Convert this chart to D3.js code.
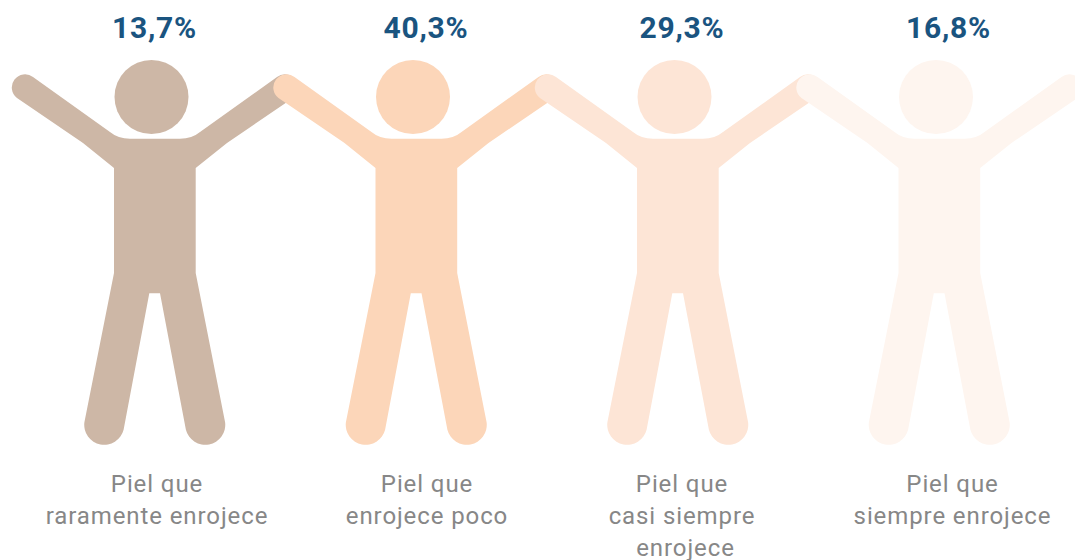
<!DOCTYPE html>
<html>
<head>
<meta charset="utf-8">
<script src="https://cdn.jsdelivr.net/npm/d3@7"></script>
<style>
    html, body { margin: 0; padding: 0; background: #fff; overflow: hidden; }
    text { font-family: Roboto, sans-serif; }
</style>
</head>
<body>
<div id="chart"></div>
<script>
// Share of people per skin type
const categories = ["rarely", "little", "almost", "always"];
const values = [13.7, 40.3, 29.3, 16.8];
const labels = [
    ["Piel que", "raramente enrojece"],
    ["Piel que", "enrojece poco"],
    ["Piel que", "casi siempre", "enrojece"],
    ["Piel que", "siempre enrojece"]
];
const colors = ["#cdb7a6", "#fcd6b9", "#fde5d6", "#fef5ef"];

const width = 1075;
const height = 560;

// text is not quite centred on the figures in the original
const valueShift = [-0.5, 9.5, 4, 9];
const labelShift = [2, 10.5, 4, 13];

const svg = d3.select("#chart")
    .append("svg")
    .attr("width", width)
    .attr("height", height)
    .style("display", "block");

const xScale = d3.scalePoint()
    .domain(categories)
    .range([155, 939.5]);

// Figure outline, relative to the middle of the torso
const body = [
    "M-25,138.7",
    "Q-37,138.7 -45,132",
    "L-122,77",
    "A13.2,13.2 0 0 0 -138,98",
    "L-72,143",
    "L-41,168",
    "L-41,273",
    "L-70.6,422.2",
    "A20,20 0 0 0 -31.4,429.8",
    "L-5.7,293.3",
    "L5,293.3",
    "L30.9,429.8",
    "A20,20 0 0 0 70.1,422.2",
    "L40.7,273",
    "L40.7,168",
    "L72,143",
    "L138,98",
    "A13.2,13.2 0 0 0 122,77",
    "L45,132",
    "Q37,138.7 25,138.7",
    "Z"
].join(" ");

const figures = svg.selectAll(".figure")
    .data(categories)
    .enter()
    .append("g")
    .attr("class", "figure")
    .attr("transform", d => `translate(${xScale(d)},0)`);

figures.append("path")
    .attr("d", body)
    .attr("fill", (d, i) => colors[i]);

figures.append("circle")
    .attr("cx", -3.5)
    .attr("cy", 97)
    .attr("r", 37)
    .attr("fill", (d, i) => colors[i]);

// Percentages on top
svg.selectAll(".value")
    .data(values)
    .enter()
    .append("text")
    .attr("class", "value")
    .attr("x", (d, i) => xScale(categories[i]) + valueShift[i])
    .attr("y", 37.5)
    .attr("text-anchor", "middle")
    .attr("fill", "#1a5480")
    .style("font-size", "30px")
    .style("font-weight", 700)
    .style("letter-spacing", "0.8px")
    .text(d => d.toFixed(1).replace(".", ",") + "%");

// Captions below
const captions = svg.selectAll(".caption")
    .data(labels)
    .enter()
    .append("text")
    .attr("class", "caption")
    .attr("text-anchor", "middle")
    .attr("fill", "#878787")
    .style("font-size", "24px")
    .style("letter-spacing", "0.9px");

captions.selectAll("tspan")
    .data((d, i) => d.map(line => ({ line, i })))
    .enter()
    .append("tspan")
    .attr("x", (d, j) => xScale(categories[d.i]) + labelShift[d.i] + (j == 2 ? 3.5 : 0))
    .attr("y", (d, j) => 491.5 + j * 32)
    .text(d => d.line);
</script>
</body>
</html>
